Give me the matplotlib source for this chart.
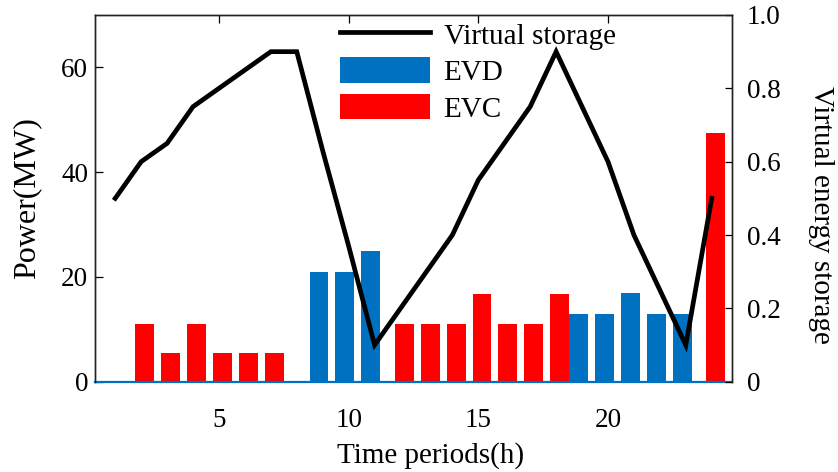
import matplotlib
matplotlib.use("Agg")
import matplotlib.pyplot as plt
import numpy as np

hours = list(range(1, 25))
evd = [0, 0, 0, 0, 0, 0, 0, 0, 21, 21, 25, 0, 0, 0, 0, 0, 0, 0, 13, 13, 17, 13, 13, 0]
evc = [0, 11, 5.5, 11, 5.5, 5.5, 5.5, 0, 0, 0, 0, 11, 11, 11, 16.8, 11, 11, 16.8, 0, 0, 0, 0, 0, 47.5]
storage = [0.50, 0.60, 0.65, 0.75, 0.80, 0.85, 0.90, 0.90, 0.63, 0.37, 0.10, 0.20,
           0.30, 0.40, 0.55, 0.65, 0.75, 0.90, 0.75, 0.60, 0.40, 0.25, 0.10, 0.50]
xticks = [5, 10, 15, 20]
yticks_left = [0, 20, 40, 60]
yticks_right = [0, 0.2, 0.4, 0.6, 0.8, 1.0]
yticklabels_right = ["0", "0.2", "0.4", "0.6", "0.8", "1.0"]

BLUE = "#0070C0"
RED = "#FF0000"

plt.rcParams['font.family'] = ['Liberation Serif', 'DejaVu Serif']

fig = plt.figure(figsize=(8.38, 4.72), dpi=100)
L, R, B, T = 95 / 838, 731.7 / 838, 1 - 381.7 / 472, 1 - 15 / 472
ax = fig.add_axes([L, B, R - L, T - B])
ax2 = ax.twinx()

x = np.array(hours, dtype=float)
off = 0.143
w = 0.73
b1 = ax.bar(x - off, evd, width=w, color=BLUE, edgecolor='none', label='EVD')
b2 = ax.bar(x + off, evc, width=w, color=RED, edgecolor='none', label='EVC')
ax.axhline(0, color=BLUE, lw=1.6, zorder=3, clip_on=False)

l1, = ax2.plot(x, storage, color='black', lw=3.4, label='Virtual storage',
               solid_joinstyle='miter')

ax.set_xlim(0.22, 24.77)
ax.set_ylim(0, 70)
ax2.set_ylim(0, 1.0)

ax.set_xticks(xticks)
ax.set_yticks(yticks_left)
ax2.set_yticks(yticks_right)
ax2.set_yticklabels(yticklabels_right)

ax.tick_params(axis='x', direction='in', length=5.5, width=0.9, top=True, bottom=False,
               labelsize=19.5, pad=19)
ax.tick_params(axis='y', direction='in', length=5.5, width=0.9, labelsize=19.5, pad=5)
ax2.tick_params(axis='y', direction='in', length=5.0, width=0.9, labelsize=19.5, pad=11)
for a in (ax, ax2):
    for s in a.spines.values():
        s.set_linewidth(1.0)
        s.set_color('#222222')
    a.spines['bottom'].set_visible(False)

fig.text(431 / 838, (472 - 463) / 472, 'Time periods(h)', fontsize=21,
         ha='center', va='baseline')
fig.text(12 / 838, 1 - 198 / 472, 'Power(MW)', fontsize=23, rotation=90,
         ha='left', va='center')
fig.text(808 / 838, 1 - 215 / 472, 'Virtual energy storage', fontsize=21, rotation=270,
         ha='left', va='center')

leg = ax2.legend([l1, b1, b2], ['Virtual storage', 'EVD', 'EVC'],
                 loc='upper left', bbox_to_anchor=(340 / 838, 1 - 21 / 472),
                 bbox_transform=fig.transFigure, frameon=False, fontsize=21,
                 borderpad=0, borderaxespad=0, handlelength=3.1, handleheight=0.97,
                 handletextpad=0.45, labelspacing=0.26)

fig.savefig('out.png', dpi=100)
